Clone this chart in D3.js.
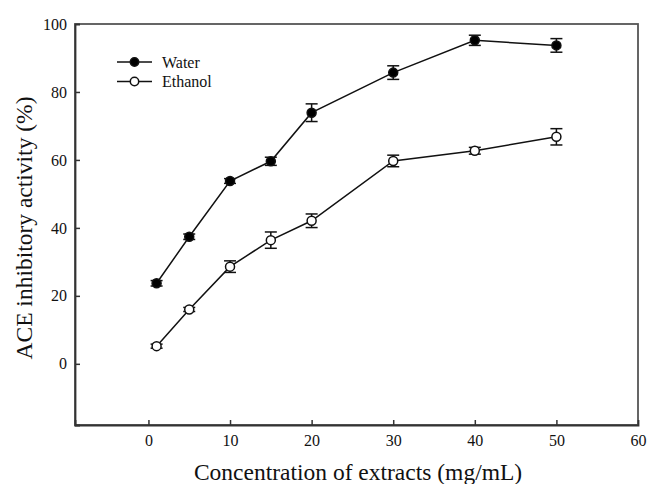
<!DOCTYPE html>
<html>
<head>
<meta charset="utf-8">
<script src="https://cdn.jsdelivr.net/npm/d3@7"></script>
<style>
  body { margin: 0; background: #fff; }
  svg text { font-family: "Liberation Serif", "Times New Roman", serif; }
</style>
</head>
<body>
<svg id="graph" width="647" height="484"></svg>
<script>
// Données
const concentrations = [1, 5, 10, 15, 20, 30, 40, 50];
const eauValeurs = [23.7, 37.4, 53.8, 59.6, 73.9, 85.7, 95.2, 93.7];
const eauErreurs = [0.8, 0.8, 0.7, 1.2, 2.6, 2.0, 1.5, 2.0];
const ethanolValeurs = [5.2, 16.0, 28.6, 36.4, 42.1, 59.7, 62.7, 66.8];
const ethanolErreurs = [0.6, 0.6, 1.7, 2.4, 2.0, 1.7, 1.0, 2.4];
const xTicks = [0, 10, 20, 30, 40, 50, 60];
const yTicks = [0, 20, 40, 60, 80, 100];
const series = [
  { nom: "Water", valeurs: eauValeurs, erreurs: eauErreurs, remplissage: "#000" },
  { nom: "Ethanol", valeurs: ethanolValeurs, erreurs: ethanolErreurs, remplissage: "#fff" }
];

const svg = d3.select("svg");

// Échelles
const xScale = d3.scaleLinear().domain([-9, 60]).range([75, 638]);
const yScale = d3.scaleLinear().domain([-18, 100]).range([425, 24]);

// Cadre (haut et droite)
svg.append("rect")
  .attr("x", 75).attr("y", 24)
  .attr("width", 563).attr("height", 401)
  .attr("fill", "none")
  .attr("stroke", "#555")
  .attr("stroke-width", 1.8);

// Axe x (graduations vers l'intérieur)
const xAxis = svg.append("g")
  .attr("transform", "translate(0,425)")
  .call(d3.axisBottom(xScale).tickValues(xTicks).tickSize(-5).tickPadding(10))
  .attr("font-family", "Liberation Serif");
xAxis.select(".domain").attr("stroke", "#333").attr("stroke-width", 1.8);
xAxis.selectAll(".tick line").attr("stroke", "#333").attr("stroke-width", 1.5)
  .filter(d => d === 60).remove();
xAxis.selectAll(".tick text").attr("font-size", 16).attr("fill", "#111");

// Axe y
const yAxis = svg.append("g")
  .attr("transform", "translate(75,0)")
  .call(d3.axisLeft(yScale).tickValues(yTicks).tickSize(-5).tickPadding(8))
  .attr("font-family", "Liberation Serif");
yAxis.select(".domain").attr("stroke", "#333").attr("stroke-width", 1.8);
yAxis.selectAll(".tick line").attr("stroke", "#333").attr("stroke-width", 1.5)
  .filter(d => d === 100).remove();
yAxis.selectAll(".tick text").attr("font-size", 16).attr("fill", "#111");

// Titres des axes
svg.append("text")
  .text("Concentration of extracts (mg/mL)")
  .attr("x", 358).attr("y", 480)
  .attr("text-anchor", "middle")
  .attr("font-size", 23.5)
  .attr("fill", "#111");

svg.append("text")
  .text("ACE inhibitory activity (%)")
  .attr("transform", "translate(32,228) rotate(-90)")
  .attr("text-anchor", "middle")
  .attr("font-size", 23.5)
  .attr("fill", "#111");

// Courbes, barres d'erreur et points
const ligne = d3.line()
  .x((d, i) => xScale(concentrations[i]))
  .y(d => yScale(d));

series.forEach(s => {
  svg.append("path")
    .attr("d", ligne(s.valeurs))
    .attr("fill", "none")
    .attr("stroke", "#111")
    .attr("stroke-width", 1.5);

  const erreurs = svg.append("g");
  concentrations.forEach((c, i) => {
    const x = xScale(c);
    const y1 = yScale(s.valeurs[i] + s.erreurs[i]);
    const y2 = yScale(s.valeurs[i] - s.erreurs[i]);
    erreurs.append("line").attr("x1", x).attr("x2", x).attr("y1", y1).attr("y2", y2);
    erreurs.append("line").attr("x1", x - 6).attr("x2", x + 6).attr("y1", y1).attr("y2", y1);
    erreurs.append("line").attr("x1", x - 6).attr("x2", x + 6).attr("y1", y2).attr("y2", y2);
  });
  erreurs.selectAll("line").attr("stroke", "#111").attr("stroke-width", 1.5);

  svg.append("g")
    .selectAll("circle")
    .data(s.valeurs)
    .enter()
    .append("circle")
    .attr("cx", (d, i) => xScale(concentrations[i]))
    .attr("cy", d => yScale(d))
    .attr("r", 4.5)
    .attr("fill", s.remplissage)
    .attr("stroke", "#111")
    .attr("stroke-width", 1.5);
});

// Légende
const legende = svg.append("g")
  .selectAll("g")
  .data(series)
  .enter()
  .append("g")
  .attr("transform", (d, i) => `translate(117,${62 + i * 19.5})`);

legende.append("line")
  .attr("x1", 0).attr("x2", 35)
  .attr("stroke", "#111").attr("stroke-width", 1.5);
legende.append("circle")
  .attr("cx", 17.5).attr("r", 4.2)
  .attr("fill", d => d.remplissage)
  .attr("stroke", "#111").attr("stroke-width", 1.5);
legende.append("text")
  .text(d => d.nom)
  .attr("x", 45).attr("dy", "0.35em")
  .attr("font-size", 16)
  .attr("fill", "#111");
</script>
</body>
</html>
